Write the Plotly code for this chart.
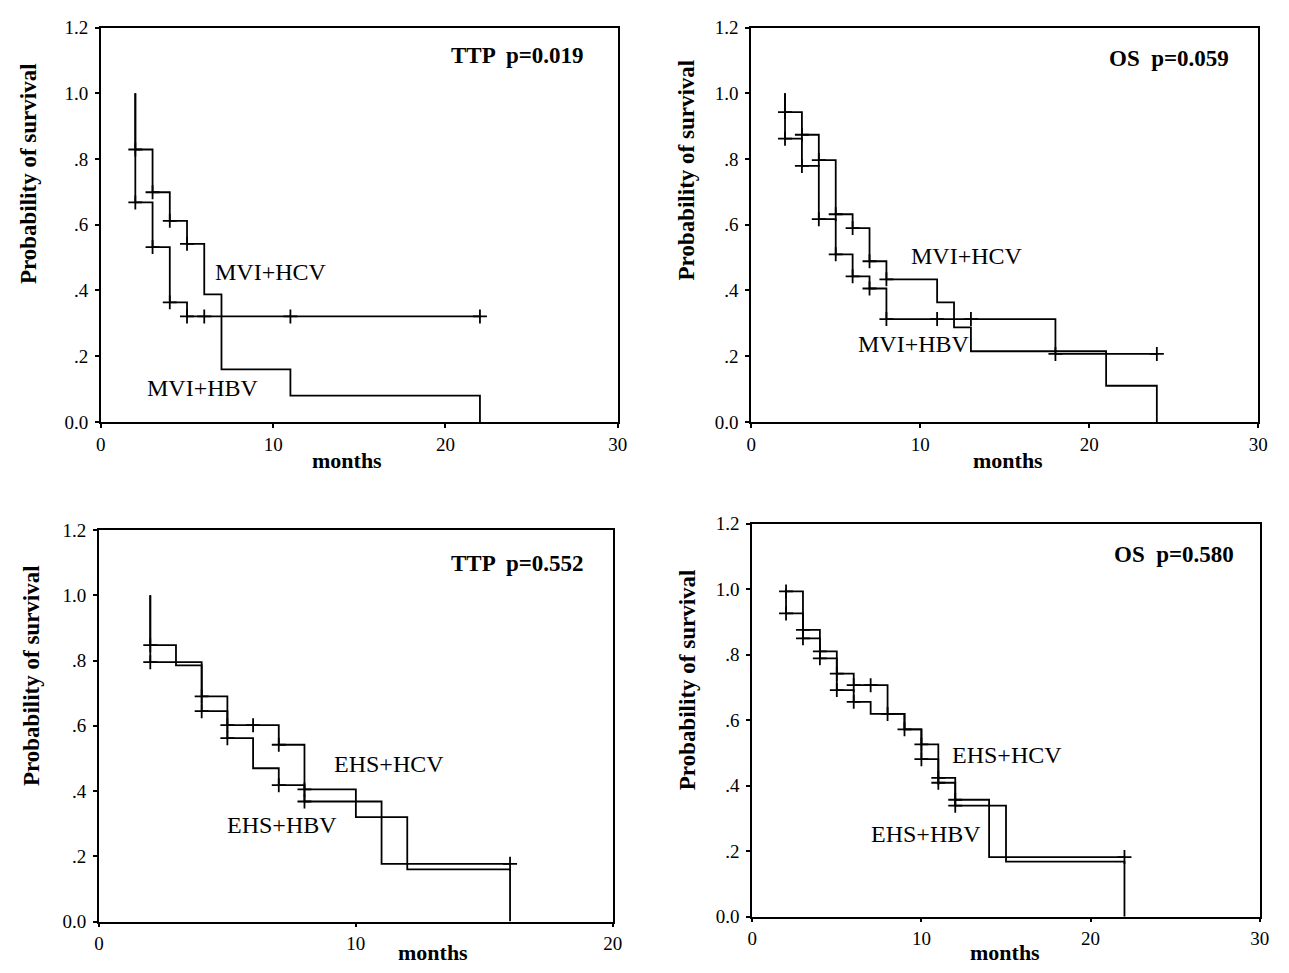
import plotly.graph_objects as go

# ---------------- data ----------------
# Panel 1: TTP, MVI
p1_a_times = [2, 3, 4, 5, 6, 7, 11, 22]
p1_a_surv = [0.829, 0.699, 0.612, 0.542, 0.388, 0.160, 0.080, 0.0]
p1_a_end = 22
p1_a_cens = [2, 3, 4, 5]
p1_b_times = [2, 3, 4, 5]
p1_b_surv = [0.668, 0.532, 0.364, 0.321]
p1_b_end = 22
p1_b_cens = [2, 3, 4, 5, 6, 11, 22]

# Panel 2: OS, MVI
p2_a_times = [2, 3, 4, 5, 6, 7, 8, 11, 12, 13, 21, 24]
p2_a_surv = [0.943, 0.874, 0.797, 0.632, 0.590, 0.489, 0.434, 0.364, 0.288, 0.215, 0.110, 0.0]
p2_a_end = 24
p2_a_cens = [2, 3, 4, 5, 6, 7, 8]
p2_b_times = [2, 3, 4, 5, 6, 7, 8, 18]
p2_b_surv = [0.862, 0.779, 0.617, 0.510, 0.443, 0.406, 0.313, 0.207]
p2_b_end = 24
p2_b_cens = [2, 3, 4, 5, 6, 7, 8, 11, 13, 18, 24]

# Panel 3: TTP, EHS
p3_a_times = [2, 3, 4, 5, 7, 8, 10, 12, 16]
p3_a_surv = [0.847, 0.785, 0.690, 0.602, 0.542, 0.405, 0.320, 0.160, 0.0]
p3_a_end = 16
p3_a_cens = [2, 4, 5, 6, 7, 8]
p3_b_times = [2, 4, 5, 6, 7, 8, 11]
p3_b_surv = [0.795, 0.645, 0.562, 0.470, 0.418, 0.368, 0.177]
p3_b_end = 16
p3_b_cens = [2, 4, 5, 7, 8, 16]

# Panel 4: OS, EHS
p4_a_times = [2, 3, 4, 5, 6, 8, 9, 10, 11, 12, 14]
p4_a_surv = [0.993, 0.876, 0.810, 0.742, 0.707, 0.619, 0.572, 0.526, 0.424, 0.357, 0.182]
p4_a_end = 22
p4_a_cens = [2, 3, 4, 5, 6, 7, 8, 9, 10, 11, 12, 22]
p4_b_times = [2, 3, 4, 5, 6, 7, 9, 10, 11, 12, 15, 22]
p4_b_surv = [0.926, 0.850, 0.789, 0.692, 0.656, 0.619, 0.572, 0.481, 0.409, 0.339, 0.168, 0.0]
p4_b_end = 22
p4_b_cens = [2, 3, 4, 5, 6, 10, 11, 12]

y_tickvals = [0.0, 0.2, 0.4, 0.6, 0.8, 1.0, 1.2]
y_ticktext = ["0.0", ".2", ".4", ".6", ".8", "1.0", "1.2"]
x_ticks_30 = [0, 10, 20, 30]
x_ticks_20 = [0, 10, 20]

panel_titles = ["TTP  p=0.019", "OS  p=0.059", "TTP  p=0.552", "OS  p=0.580"]
curve_labels = [("MVI+HCV", "MVI+HBV"), ("MVI+HCV", "MVI+HBV"),
                ("EHS+HCV", "EHS+HBV"), ("EHS+HCV", "EHS+HBV")]
x_title = "months"
y_title = "Probability of survival"

# ---------------- helpers ----------------
W, H = 1289, 973
FONT = "Liberation Serif"


def step_xy(times, surv, end, start=1.0):
    xs, ys = [times[0]], [start]
    prev = start
    for t, s in zip(times, surv):
        xs += [t, t]
        ys += [prev, s]
        prev = s
    if end > times[-1]:
        xs.append(end)
        ys.append(prev)
    return xs, ys


def surv_at(times, surv, t):
    v = 1.0
    for ti, si in zip(times, surv):
        if ti <= t:
            v = si
    return v


def px_x(p):
    return p / W


def px_y(p):
    return 1 - p / H


fig = go.Figure()

# panel pixel boxes: (left, right, top, bottom)
boxes = [(97, 620, 18, 421), (755, 1268, 18, 421),
         (95, 615, 531.5, 931.7), (756, 1269.6, 525, 926.7)]
xmax = [30, 30, 20, 30]
xticks = [x_ticks_30, x_ticks_30, x_ticks_20, x_ticks_30]

curves = [
    [(p1_a_times, p1_a_surv, p1_a_end, p1_a_cens), (p1_b_times, p1_b_surv, p1_b_end, p1_b_cens)],
    [(p2_a_times, p2_a_surv, p2_a_end, p2_a_cens), (p2_b_times, p2_b_surv, p2_b_end, p2_b_cens)],
    [(p3_a_times, p3_a_surv, p3_a_end, p3_a_cens), (p3_b_times, p3_b_surv, p3_b_end, p3_b_cens)],
    [(p4_a_times, p4_a_surv, p4_a_end, p4_a_cens), (p4_b_times, p4_b_surv, p4_b_end, p4_b_cens)],
]

for i, (box, cs) in enumerate(zip(boxes, curves)):
    n = "" if i == 0 else str(i + 1)
    xa, ya = "x" + n, "y" + n
    for times, surv, end, cens in cs:
        xs, ys = step_xy(times, surv, end)
        fig.add_trace(go.Scatter(x=xs, y=ys, mode="lines", xaxis=xa, yaxis=ya,
                                 line=dict(color="black", width=1.8),
                                 showlegend=False, hoverinfo="skip"))
        fig.add_trace(go.Scatter(x=cens, y=[surv_at(times, surv, t) for t in cens],
                                 mode="markers", xaxis=xa, yaxis=ya,
                                 marker=dict(symbol="cross-thin", size=10,
                                             line=dict(color="black", width=1.8)),
                                 showlegend=False, hoverinfo="skip"))
    l, r, t, b = box
    axis_common = dict(showline=True, linecolor="black", linewidth=1.6, mirror=True,
                       ticks="outside", ticklen=4, tickwidth=2, tickcolor="black",
                       showgrid=False, zeroline=False,
                       tickfont=dict(family=FONT, size=19, color="black"))
    fig.layout["xaxis" + n] = dict(domain=[px_x(l), px_x(r)], range=[0, xmax[i]],
                                   tickvals=xticks[i], anchor=ya, **axis_common)
    fig.layout["yaxis" + n] = dict(domain=[px_y(b), px_y(t)], range=[0, 1.2],
                                   tickvals=y_tickvals, ticktext=y_ticktext,
                                   ticklabelstandoff=3, anchor=xa, **axis_common)

annotations = []
# p-value titles (right edge px, centre y px)
title_pos = [(588, 47), (1240, 50), (588, 566), (1245, 557)]
for txt, (x, y) in zip(panel_titles, title_pos):
    annotations.append(dict(text="<b>" + txt + "</b>", x=px_x(x), y=px_y(y),
                            xref="paper", yref="paper", xanchor="right", yanchor="middle",
                            showarrow=False, font=dict(family=FONT, size=23, color="black")))
# curve labels in data coordinates (left edge)
label_pos = [((6.48, 0.457), (2.58, 0.104)), ((9.35, 0.505), (6.2, 0.237)),
             ((9.08, 0.482), (4.92, 0.296)), ((11.68, 0.494), (6.9, 0.254))]
for i, (labs, poss) in enumerate(zip(curve_labels, label_pos)):
    n = "" if i == 0 else str(i + 1)
    for txt, (x, y) in zip(labs, poss):
        annotations.append(dict(text=txt, x=x, y=y, xref="x" + n, yref="y" + n,
                                xanchor="left", yanchor="middle", showarrow=False,
                                font=dict(family=FONT, size=24, color="black")))
# axis titles
xt_pos = [(346, 460), (1015, 460), (433, 963), (1012, 963)]
for x, y in xt_pos:
    annotations.append(dict(text="<b>" + x_title + "</b>", x=px_x(x), y=px_y(y),
                            xref="paper", yref="paper", xanchor="center", yanchor="middle",
                            showarrow=False, font=dict(family=FONT, size=22, color="black")))
yt_pos = [(24, 167), (690, 163), (27, 680), (690, 684)]
for x, y in yt_pos:
    annotations.append(dict(text="<b>" + y_title + "</b>", x=px_x(x), y=px_y(y),
                            xref="paper", yref="paper", xanchor="center", yanchor="middle",
                            textangle=-90, showarrow=False,
                            font=dict(family=FONT, size=23, color="black")))

fig.update_layout(width=W, height=H, margin=dict(l=0, r=0, t=0, b=0),
                  paper_bgcolor="white", plot_bgcolor="white",
                  annotations=annotations)

fig.write_html("out.html", config={"displayModeBar": False},
               post_script="document.body.style.margin='0';")
